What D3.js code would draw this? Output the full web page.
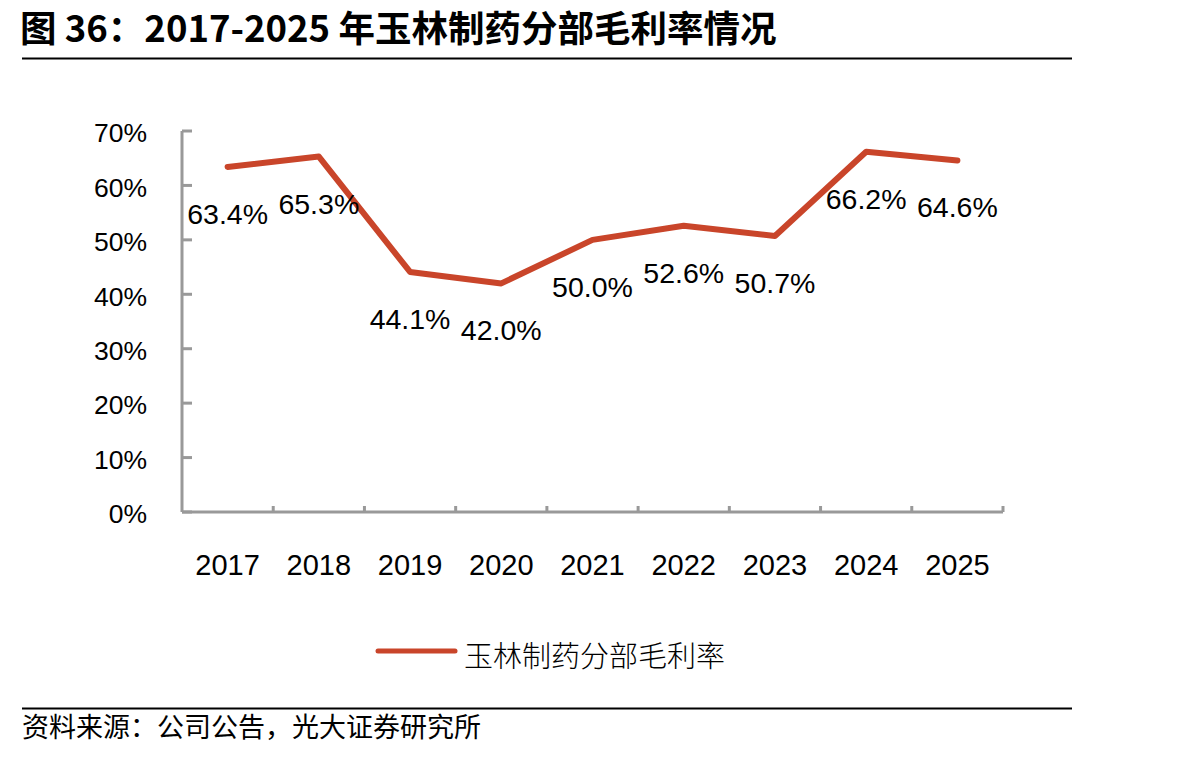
<!DOCTYPE html>
<html>
<head>
<meta charset="utf-8">
<script src="https://cdn.jsdelivr.net/npm/d3@7"></script>
<style>
  body { margin: 0; background: #fff; }
  svg text { font-family: "Liberation Sans", Arial, sans-serif; }
  .cjk { font-family: "Noto Sans CJK SC", sans-serif; }
</style>
</head>
<body>
<svg id="chart" width="1204" height="757"></svg>
<script>
// data
const years = ["2017", "2018", "2019", "2020", "2021", "2022", "2023", "2024", "2025"];
const margins = [63.4, 65.3, 44.1, 42.0, 50.0, 52.6, 50.7, 66.2, 64.6];
const yTicks = [0, 10, 20, 30, 40, 50, 60, 70];
const seriesName = "玉林制药分部毛利率";

const svg = d3.select("#chart");
const lineColor = "#c9452a";
const axisColor = "#999999";

// title + rules
svg.append("text")
  .attr("class", "cjk")
  .attr("x", 20).attr("y", 42)
  .style("font-size", "36.5px").style("font-weight", "bold")
  .text("图 36：2017-2025 年玉林制药分部毛利率情况");

svg.append("line").attr("x1", 22).attr("x2", 1072).attr("y1", 58.5).attr("y2", 58.5)
  .attr("stroke", "#000").attr("stroke-width", 2);
svg.append("line").attr("x1", 22).attr("x2", 1072).attr("y1", 708.5).attr("y2", 708.5)
  .attr("stroke", "#000").attr("stroke-width", 2);

svg.append("text")
  .attr("class", "cjk")
  .attr("x", 22).attr("y", 737)
  .style("font-size", "27px")
  .text("资料来源：公司公告，光大证券研究所");

// scales
const x = d3.scaleBand().domain(years).range([182, 1003]);
const y = d3.scaleLinear().domain([0, 70]).range([512, 131]);

// y axis
const gy = svg.append("g");
gy.append("line").attr("x1", 182).attr("x2", 182).attr("y1", y(70)).attr("y2", y(0))
  .attr("stroke", axisColor).attr("stroke-width", 3);
gy.selectAll(".ytick").data(yTicks).enter().append("line")
  .attr("x1", 182).attr("x2", 192)
  .attr("y1", d => y(d)).attr("y2", d => y(d))
  .attr("stroke", axisColor).attr("stroke-width", 3);
gy.selectAll(".ylab").data(yTicks).enter().append("text")
  .attr("x", 147).attr("y", d => y(d) + 2)
  .attr("dy", "0.35em")
  .attr("text-anchor", "end")
  .style("font-size", "26.5px")
  .text(d => d + "%");

// x axis
const gx = svg.append("g");
gx.append("line").attr("x1", 182).attr("x2", 1003).attr("y1", 512).attr("y2", 512)
  .attr("stroke", axisColor).attr("stroke-width", 3);
const bounds = years.map(d => x(d) + x.bandwidth());
gx.selectAll(".xtick").data(bounds).enter().append("line")
  .attr("x1", d => d).attr("x2", d => d)
  .attr("y1", 512).attr("y2", 506)
  .attr("stroke", axisColor).attr("stroke-width", 3);
gx.selectAll(".xlab").data(years).enter().append("text")
  .attr("x", d => x(d) + x.bandwidth() / 2)
  .attr("y", 575)
  .attr("text-anchor", "middle")
  .style("font-size", "29px")
  .text(d => d);

// line
const line = d3.line()
  .x((d, i) => x(years[i]) + x.bandwidth() / 2)
  .y(d => y(d));

svg.append("path")
  .datum(margins)
  .attr("d", line)
  .attr("fill", "none")
  .attr("stroke", lineColor)
  .attr("stroke-width", 6)
  .attr("stroke-linecap", "round")
  .attr("stroke-linejoin", "round");

// data labels
svg.selectAll(".label").data(margins).enter().append("text")
  .attr("x", (d, i) => x(years[i]) + x.bandwidth() / 2)
  .attr("y", d => y(d) + 47)
  .attr("dy", "0.35em")
  .attr("text-anchor", "middle")
  .style("font-size", "28.5px")
  .text(d => d.toFixed(1) + "%");

// legend
svg.append("line").attr("x1", 378).attr("x2", 455).attr("y1", 651).attr("y2", 651)
  .attr("stroke", lineColor).attr("stroke-width", 5).attr("stroke-linecap", "round");
svg.append("text")
  .attr("class", "cjk")
  .attr("x", 464).attr("y", 657)
  .attr("dy", "0.35em")
  .style("font-size", "29px")
  .style("font-weight", 300)
  .text(seriesName);
</script>
</body>
</html>
